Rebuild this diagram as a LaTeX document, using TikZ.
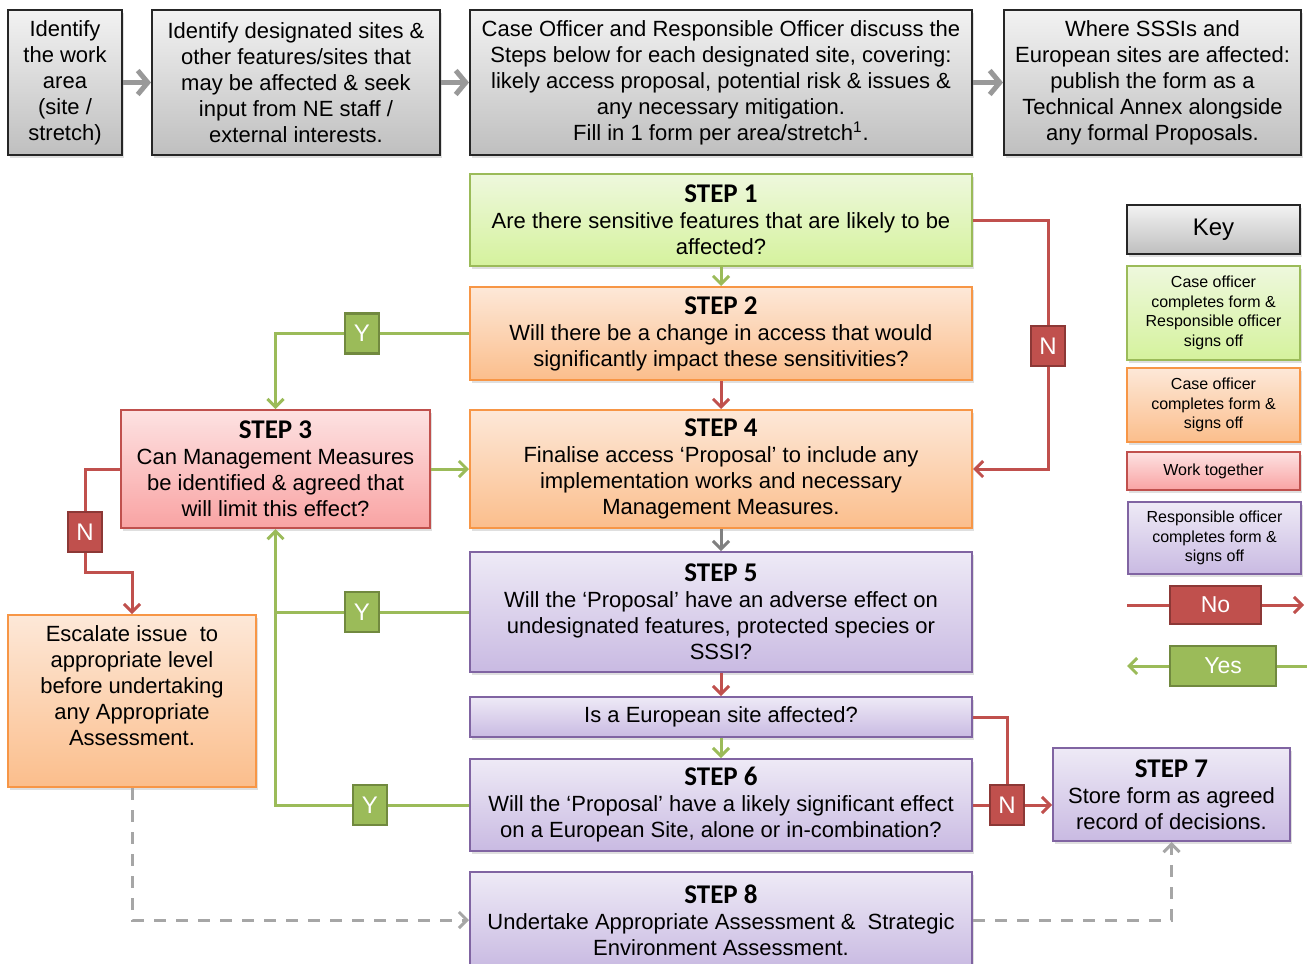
\documentclass[tikz,border=0pt]{standalone}
\usepackage{fontspec}
\setmainfont{Liberation Sans}
\newfontfamily\stepfont{Carlito}
\usetikzlibrary{arrows.meta,shadows}

\definecolor{nred}{HTML}{C0504D}
\definecolor{nreddark}{HTML}{8C3836}
\definecolor{ygreen}{HTML}{9BBB59}
\definecolor{ygreendark}{HTML}{71893F}
\definecolor{orangeline}{HTML}{F79646}
\definecolor{purpleline}{HTML}{8064A2}
\definecolor{greentop}{HTML}{EEF8DD}
\definecolor{greenbot}{HTML}{D5F29D}
\definecolor{orangetop}{HTML}{FDE8D8}
\definecolor{orangebot}{HTML}{FBBE8C}
\definecolor{redtop}{HTML}{FDE2E2}
\definecolor{redbot}{HTML}{F9A3A3}
\definecolor{purpletop}{HTML}{EEEAF6}
\definecolor{purplebot}{HTML}{C9BAE2}
\definecolor{greytop}{HTML}{F2F2F2}
\definecolor{greybot}{HTML}{BFBFBF}

\newcommand{\stephead}[1]{{\stepfont\bfseries\fontsize{13.5}{13}\selectfont #1}}

\tikzset{
  >={Straight Barb[length=4pt,width=8pt]},
  basebox/.style={draw, line width=1pt, align=center, inner sep=1pt,
    font=\fontsize{11}{13}\selectfont,
    drop shadow={opacity=.25, shadow xshift=1.2pt, shadow yshift=-1.5pt}},
  greybox/.style={basebox, draw=black!85, top color=greytop, bottom color=greybot},
  greenbox/.style={basebox, draw=ygreen, top color=greentop, bottom color=greenbot},
  orangebox/.style={basebox, draw=orangeline, top color=orangetop, bottom color=orangebot},
  redbox/.style={basebox, draw=nred, top color=redtop, bottom color=redbot},
  purplebox/.style={basebox, draw=purpleline, top color=purpletop, bottom color=purplebot},
  wide/.style={minimum width=251pt},
  keybox/.style={minimum width=86.5pt, font=\fontsize{8}{9.8}\selectfont},
  yn/.style={draw, line width=1.2pt, minimum width=17pt, minimum height=20pt,
    inner sep=0pt, text=white, font=\fontsize{12}{12}\selectfont},
  ybox/.style={yn, fill=ygreen, draw=ygreendark},
  nbox/.style={yn, fill=nred, draw=nreddark},
  redline/.style={nred, line width=1.5pt},
  greenline/.style={ygreen, line width=1.5pt},
  greyline/.style={black!50, line width=1.5pt},
  dashline/.style={black!35, line width=1.5pt, dash pattern=on 6pt off 5pt},
  toparrow/.style={black!40, line width=2.5pt, -{Straight Barb[length=5pt,width=12pt]}}
}

\begin{document}
\begin{tikzpicture}[x=0.5pt,y=-0.5pt]
\useasboundingbox (0,0) rectangle (1307,964);
\fill[white] (0,0) rectangle (1307,964);
% rangée du haut
\node[greybox, minimum width=57pt, minimum height=72.5pt] (area) at (65,82.5)
  {Identify\\the work\\area\\(site /\\stretch)};
\node[greybox, minimum width=144pt, minimum height=72.5pt] (sites) at (296,82.5)
  {Identify designated sites \&\\other features/sites that\\may be affected \& seek\\input from NE staff /\\external interests.};
\node[greybox, wide, minimum height=72.5pt] (discuss) at (721,82.5)
  {Case Officer and Responsible Officer discuss the\\Steps below for each designated site, covering:\\likely access proposal, potential risk \& issues \&\\any necessary mitigation.\\Fill in 1 form per area/stretch\textsuperscript{1}.};
\node[greybox, minimum width=148.5pt, minimum height=72.5pt] (publish) at (1152.5,82.5)
  {Where SSSIs and\\European sites are affected:\\publish the form as a\\Technical Annex alongside\\any formal Proposals.};
\foreach \a/\b in {area/sites,sites/discuss,discuss/publish}
  \draw[toparrow] (\a) -- (\b);
% les étapes
\node[greenbox, wide, minimum height=46pt] (step1) at (721,220)
  {\stephead{STEP 1}\\Are there sensitive features that are likely to be\\affected?};
\node[orangebox, wide, minimum height=46.5pt] (step2) at (721,333.5)
  {\stephead{STEP 2}\\Will there be a change in access that would\\significantly impact these sensitivities?};
\node[redbox, minimum width=154.5pt, minimum height=59pt] (step3) at (275.5,469)
  {\stephead{STEP 3}\\Can Management Measures\\be identified \& agreed that\\will limit this effect?};
\node[orangebox, wide, minimum height=59pt] (step4) at (721,469)
  {\stephead{STEP 4}\\Finalise access ‘Proposal’ to include any\\implementation works and necessary\\Management Measures.};
\node[purplebox, wide, minimum height=60pt] (step5) at (721,612)
  {\stephead{STEP 5}\\Will the ‘Proposal’ have an adverse effect on\\undesignated features, protected species or\\SSSI?};
\node[purplebox, wide, minimum height=20pt] (euro) at (721,717) {Is a European site affected?};
\node[purplebox, wide, minimum height=46pt] (step6) at (721,805)
  {\stephead{STEP 6}\\Will the ‘Proposal’ have a likely significant effect\\on a European Site, alone or in-combination?};
\node[purplebox, minimum width=118.5pt, minimum height=46.5pt] (step7) at (1171.5,794.5)
  {\stephead{STEP 7}\\Store form as agreed\\record of decisions.};
\node[purplebox, wide, minimum height=48pt] (step8) at (721,920)
  {\stephead{STEP 8}\\Undertake Appropriate Assessment \&\ \ Strategic\\Environment Assessment.};
\node[orangebox, minimum width=124pt, minimum height=86pt] (esc) at (132,701) {};
\node[align=center, font=\fontsize{11}{13}\selectfont] (esctext) at (132,686)
  {Escalate issue\ \ to\\appropriate level\\before undertaking\\any Appropriate\\Assessment.};
% légende
\node[greybox, minimum width=86.5pt, minimum height=24.5pt, font=\fontsize{12}{12}\selectfont] (key) at (1213.5,229.5) {Key};
\node[greenbox, keybox, minimum height=47pt] (keygreen) at (1213.5,313)
  {Case officer\\completes form \&\\Responsible officer\\signs off};
\node[orangebox, keybox, minimum height=37pt] (keyorange) at (1213.5,405)
  {Case officer\\completes form \&\\signs off};
\node[redbox, keybox, minimum height=19pt] (keyred) at (1213.5,471) {Work together};
\node[purplebox, keybox, minimum height=36pt] (keypurple) at (1214.5,538)
  {Responsible officer\\completes form \&\\signs off};
\node[nbox, minimum width=45.5pt, minimum height=19pt, font=\fontsize{11.5}{12}\selectfont] (keyno) at (1215.5,605) {No};
\node[ybox, minimum width=53pt, minimum height=20pt, font=\fontsize{11.5}{12}\selectfont] (keyyes) at (1223,666) {Yes};
\coordinate (nofrom) at (1127,605);
\coordinate (noto) at (1304,605);
\coordinate (yesfrom) at (1307,666);
\coordinate (yesto) at (1127,666);
\draw[redline] (nofrom) -- (keyno.west);
\draw[redline,->] (keyno.east) -- (noto);
\draw[greenline] (yesfrom) -- (keyyes.east);
\draw[greenline,->] (keyyes.west) -- (yesto);
% étiquettes Y / N
\node[nbox] (n1) at (1048,346) {N};
\node[ybox] (y1) at (362,333.5) {Y};
\node[nbox] (n2) at (85,532) {N};
\node[ybox] (y2) at (362,612) {Y};
\node[ybox] (y3) at (370,805) {Y};
\node[nbox] (n3) at (1007,805) {N};
% enchaînement
\draw[greenline,->] (step1) -- (step2);
\draw[redline,->] (step2) -- (step4);
\draw[greyline,->] (step4) -- (step5);
\draw[redline,->] (step5) -- (euro);
\draw[greenline,->] (euro) -- (step6);
\draw[greenline,->] (step3) -- (step4);
% branches N
\draw[redline] (step1.east) -| (n1.north);
\draw[redline,->] (n1.south) |- (step4.east);
\draw[redline] (step3.west) -| (n2.north);
\coordinate (nbend) at (85,572);
\draw[redline,->] (n2.south) -- (nbend) -| (esc.north);
\draw[redline] (euro.east) -| (n3.north);
\draw[redline] (step6.east) -- (n3.west);
\draw[redline,->] (n3.east) -- (n3.east -| step7.west);
% branches Y
\draw[greenline] (step2.west) -- (y1.east);
\draw[greenline,->] (y1.west) -| (step3.north);
\draw[greenline] (step5.west) -- (y2.east);
\draw[greenline] (y2.west) -- (y2.west -| step3.south);
\draw[greenline] (step6.west) -- (y3.east);
\draw[greenline,->] (y3.west) -| (step3.south);
% pointillés
\draw[dashline,->] (esc.south) |- (step8.west);
\draw[dashline,->] (step8.east) -| (step7.south);
\end{tikzpicture}
\end{document}
